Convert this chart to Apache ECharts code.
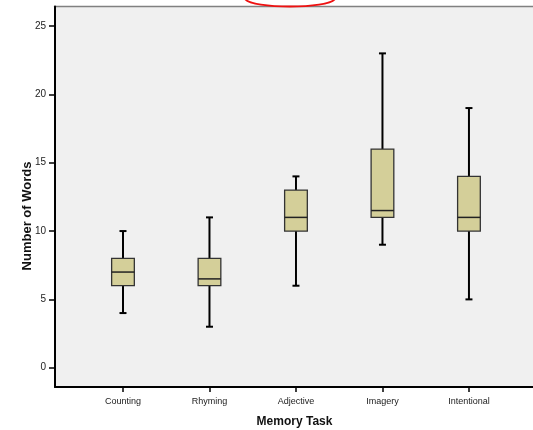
<!DOCTYPE html>
<html>
<head>
<meta charset="utf-8">
<script src="https://cdn.jsdelivr.net/npm/echarts@6/dist/echarts.min.js"></script>
<style>
html,body{margin:0;padding:0;background:#fff;}
#chart{width:533px;height:430px;}
</style>
</head>
<body>
<div id="chart"></div>
<script>
const categories = ['Counting', 'Rhyming', 'Adjective', 'Imagery', 'Intentional'];
const minValues    = [4, 3, 6, 9, 5];
const q1Values     = [6, 6, 10, 11, 10];
const medianValues = [7, 6.5, 11, 11.5, 11];
const q3Values     = [8, 8, 13, 16, 14];
const maxValues    = [10, 11, 14, 23, 19];
const yTicks = [0, 5, 10, 15, 20, 25];

const data = categories.map((c, i) => [i, minValues[i], q1Values[i], medianValues[i], q3Values[i], maxValues[i]]);

const chart = echarts.init(document.getElementById('chart'));

function renderItem(params, api) {
  const x = api.value(0);
  const pMin = api.coord([x, api.value(1)]);
  const pQ1 = api.coord([x, api.value(2)]);
  const pMed = api.coord([x, api.value(3)]);
  const pQ3 = api.coord([x, api.value(4)]);
  const pMax = api.coord([x, api.value(5)]);
  const cx = pMin[0];
  const bw = 22.7, cw = 7;
  const lineStyle = {stroke: '#000', lineWidth: 2};
  return {
    type: 'group',
    children: [
      {type: 'line', shape: {x1: cx, y1: pMin[1], x2: cx, y2: pQ1[1]}, style: lineStyle},
      {type: 'line', shape: {x1: cx, y1: pQ3[1], x2: cx, y2: pMax[1]}, style: lineStyle},
      {type: 'line', shape: {x1: cx - cw / 2, y1: pMin[1], x2: cx + cw / 2, y2: pMin[1]}, style: lineStyle},
      {type: 'line', shape: {x1: cx - cw / 2, y1: pMax[1], x2: cx + cw / 2, y2: pMax[1]}, style: lineStyle},
      {type: 'rect', shape: {x: cx - bw / 2, y: pQ3[1], width: bw, height: pQ1[1] - pQ3[1]},
        style: {fill: '#d4cf99', stroke: '#333', lineWidth: 1.3}},
      {type: 'line', shape: {x1: cx - bw / 2, y1: pMed[1], x2: cx + bw / 2, y2: pMed[1]},
        style: {stroke: '#222', lineWidth: 1.5}}
    ]
  };
}

chart.setOption({
  animation: false,
  backgroundColor: '#fff',
  grid: {
    left: 55, top: 6.5, right: -1, bottom: 43,
    outerBoundsMode: 'none', containLabel: false,
    show: true, backgroundColor: '#f0f0f0', borderColor: '#808080', borderWidth: 1.5
  },
  xAxis: {
    type: 'value',
    min: -0.786, max: 4.752,
    splitLine: {show: false},
    axisLine: {show: true, onZero: false, lineStyle: {color: '#000', width: 2}},
    axisTick: {show: true, length: 5, customValues: categories.map((c, i) => i), lineStyle: {color: '#000', width: 1.5}},
    axisLabel: {
      customValues: categories.map((c, i) => i),
      formatter: v => categories[Math.round(v)] || '',
      color: '#222', fontSize: 9, fontFamily: 'Liberation Sans, Arial', margin: 10
    },
    name: 'Memory Task', nameLocation: 'middle', nameGap: 29,
    nameTextStyle: {color: '#111', fontSize: 12, fontWeight: 'bold', fontFamily: 'Liberation Sans, Arial'}
  },
  yAxis: {
    type: 'value',
    min: -1.41, max: 26.43,
    splitLine: {show: false},
    axisLine: {show: true, onZero: false, lineStyle: {color: '#000', width: 2}},
    axisTick: {show: true, length: 6, customValues: yTicks, lineStyle: {color: '#000', width: 1.5}},
    axisLabel: {
      customValues: yTicks,
      color: '#222', fontSize: 10, fontFamily: 'Liberation Sans, Arial', margin: 9
    }
  },
  graphic: [
    {
      type: 'text', rotation: Math.PI / 2,
      style: {text: 'Number of Words', fill: '#111', font: 'bold 13px "Liberation Sans", Arial', textAlign: 'center', textVerticalAlign: 'middle'},
      x: 27, y: 216
    },
    {
      type: 'bezierCurve', z: 100,
      shape: {x1: 245, y1: -1, x2: 335, y2: -1, cpx1: 252, cpy1: 9, cpx2: 328, cpy2: 9},
      style: {stroke: '#ee1111', lineWidth: 1.8, fill: null}
    }
  ],
  series: [{
    type: 'custom',
    renderItem: renderItem,
    data: data,
    encode: {x: 0, y: [1, 2, 3, 4, 5]},
    z: 10
  }]
});
</script>
</body>
</html>
